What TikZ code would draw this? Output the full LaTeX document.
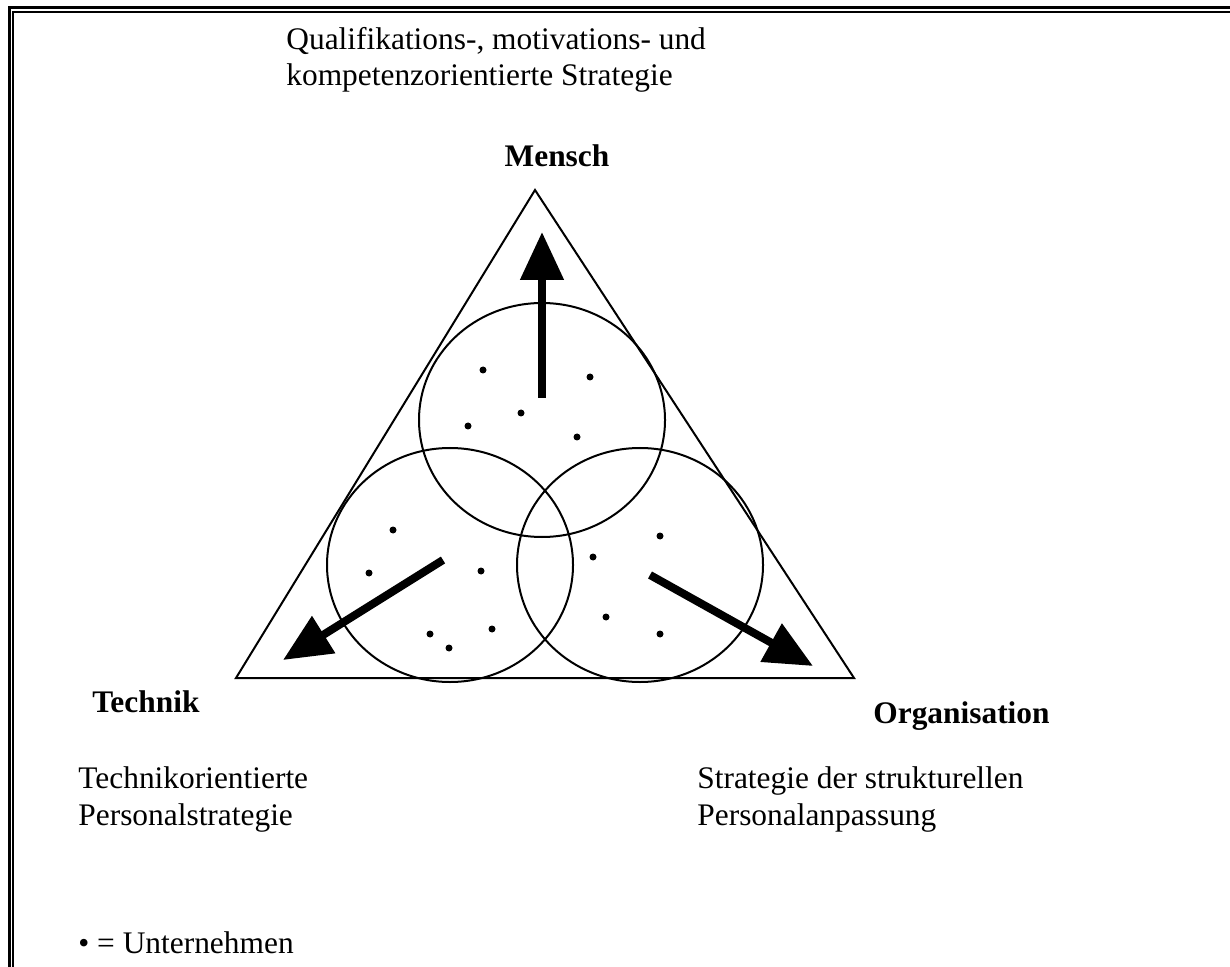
\documentclass[tikz,border=0pt]{standalone}
\usepackage{fontspec}
\setmainfont{Liberation Serif}
\usetikzlibrary{arrows.meta,positioning}

\begin{document}
\begin{tikzpicture}[
  x=0.5pt,y=-0.5pt,
  every node/.style={inner sep=0pt,font=\fontsize{15.7}{18.3}\selectfont},
  pole/.style={font=\fontsize{15.7}{18.3}\selectfont\bfseries},
  strat/.style={align=left,anchor=base west},
  field/.style={line width=1pt},
  push/.style={line width=4pt,-{Triangle[width=21pt,length=24pt]}},
  firm/.style={fill,radius=1.75pt}
]
  \useasboundingbox (0,0) rectangle (1230,967);
  % frame (only top and left edges show)
  \draw[line width=1.5pt] (9,967) -- (9,8) -- (1230,8);
  \draw[line width=1pt] (12.5,967) -- (12.5,12) -- (1230,12);

  % triangle and the three fields
  \coordinate (top) at (535,190);
  \coordinate (left) at (236,678);
  \coordinate (right) at (854,678);
  \draw[field] (top) -- (left) -- (right) -- cycle;
  \draw[field] (542,420) ellipse [x radius=123,y radius=117];
  \draw[field] (450,565) ellipse [x radius=123,y radius=117];
  \draw[field] (640,565) ellipse [x radius=123,y radius=117];

  % companies
  \foreach \p in {(483,370),(590,377),(521,413),(468,426),(577,437),
                  (393,530),(369,573),(481,571),(430,634),(449,648),(492,629),
                  (660,536),(593,557),(606,617),(660,634)}
    \fill[firm] \p circle;

  % directions
  \coordinate (upfrom) at (542,398);
  \coordinate (upto) at (542,232);
  \coordinate (lfrom) at (443,560);
  \coordinate (lto) at (283,660);
  \coordinate (rfrom) at (650,575);
  \coordinate (rto) at (813,666);
  \draw[push] (upfrom) -- (upto);
  \draw[push] (lfrom) -- (lto);
  \draw[push] (rfrom) -- (rto);

  % labels
  \node[strat] (quali) at (286,86) {Qualifikations-, motivations- und\\kompetenzorientierte Strategie};
  \node[pole,anchor=base] (mensch) at (557,167) {Mensch};
  \node[pole,anchor=base west] (technik) at (92,712) {Technik};
  \node[pole,anchor=base west] (organisation) at (873,723) {Organisation};
  \node[strat] (technikstrat) at (78,825) {Technikorientierte\\Personalstrategie};
  \node[strat] (orgstrat) at (697,825) {Strategie der strukturellen\\Personalanpassung};
  \node[anchor=base west] (legend) at (78,953) {• = Unternehmen};
\end{tikzpicture}
\end{document}
